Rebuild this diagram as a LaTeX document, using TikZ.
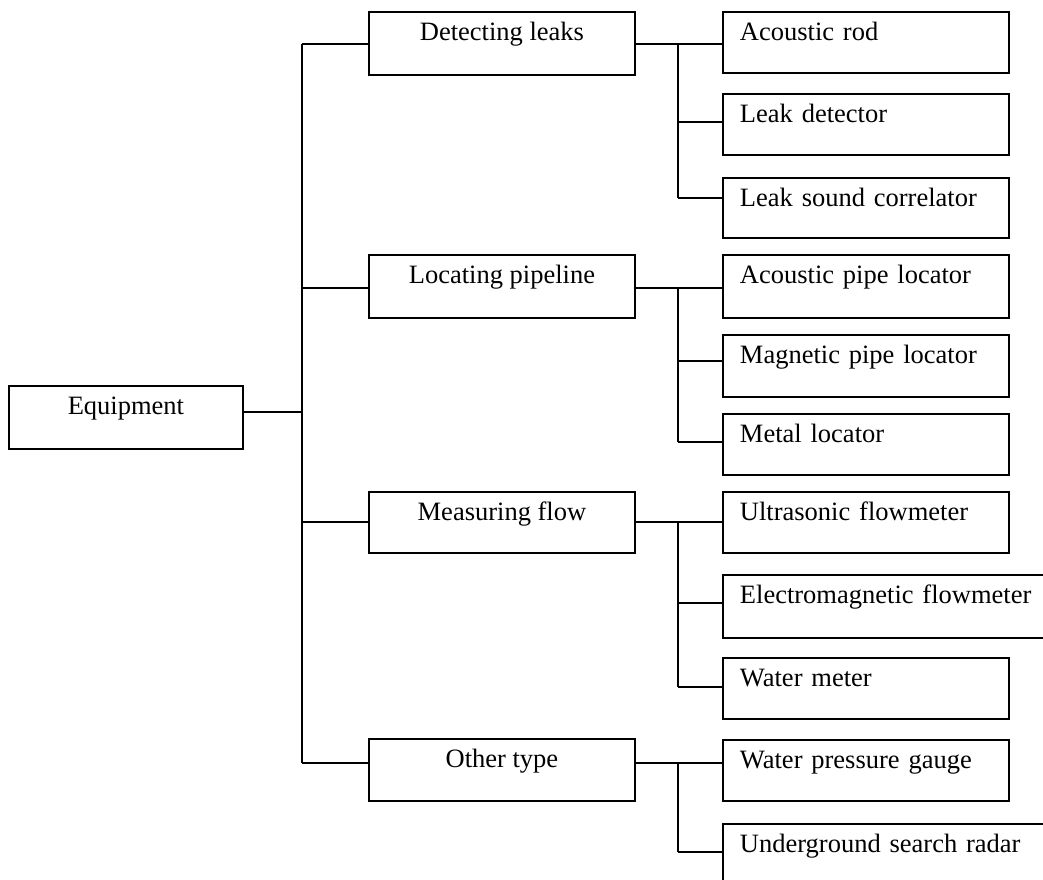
\documentclass[tikz,border=0pt]{standalone}
\usepackage{fontspec}
\setmainfont{Liberation Serif}
\newcommand\boxfont{\fontsize{26.5pt}{30pt}\selectfont}
\begin{document}
\begin{tikzpicture}[x=1pt,y=-1pt,
  line width=1.9pt,
  box/.style={draw, inner sep=0pt, anchor=north west, text height=28.5pt, font=\boxfont},
  cat/.style={box, minimum width=266pt, text depth=#1},
  item/.style={box, inner xsep=17pt, text width=252pt, align=left, text depth=#1},
  wideitem/.style={box, inner xsep=17pt, text width=320pt, align=left, text depth=#1}]
\useasboundingbox (0,0) rectangle (1043,879);
\clip (0,0) rectangle (1043,879);

% root
\node[box, minimum width=234pt, text depth=34.5pt] (eq) at (8,385) {Equipment};

% categories
\node[cat=34.5pt] (dl) at (368,11)  {Detecting leaks};
\node[cat=34.5pt] (lp) at (368,254) {Locating pipeline};
\node[cat=32.5pt] (mf) at (368,491) {Measuring flow};
\node[cat=33.5pt] (ot) at (368,738) {Other type};

% instruments
\node[item=32.5pt] (ar)  at (722,11)  {Acoustic rod};
\node[item=32.5pt] (ld)  at (722,93)  {Leak detector};
\node[item=31.5pt] (lsc) at (722,177) {Leak sound correlator};
\node[item=34.5pt] (apl) at (722,254) {Acoustic pipe locator};
\node[item=33.5pt] (mpl) at (722,334) {Magnetic pipe locator};
\node[item=32.5pt] (ml)  at (722,413) {Metal locator};
\node[item=32.5pt] (uf)  at (722,491) {Ultrasonic flowmeter};
\node[wideitem=34.5pt] (ef) at (722,574) {Electromagnetic flowmeter};
\node[item=32.5pt] (wm)  at (722,657) {Water meter};
\node[item=32.5pt] (wpg) at (722,739) {Water pressure gauge};
\node[wideitem=34.5pt] (usr) at (722,823) {Underground search radar};

% vertical bus lines
\coordinate (trunk) at (302,0);
\coordinate (bus) at (678,0);

% connection ports
\path ([yshift=-27pt]eq.north east) coordinate (Req);
\foreach \n/\o in {dl/33, lp/34, mf/31, ot/25}{
  \path ([yshift=-\o pt]\n.north west) coordinate (L\n)
        ([yshift=-\o pt]\n.north east) coordinate (R\n);
}
\foreach \n/\o in {ar/33, ld/29, lsc/21, apl/34, mpl/27, ml/29, uf/31, ef/29, wm/30, wpg/24, usr/29}{
  \path ([yshift=-\o pt]\n.north west) coordinate (L\n);
}

% root to categories
\draw (Req) -- (Req -| trunk);
\draw (Ldl -| trunk) -- (Lot -| trunk);
\foreach \n in {dl, lp, mf, ot}{
  \draw (L\n -| trunk) -- (L\n);
}

% categories to instruments
\foreach \c/\last in {dl/lsc, lp/ml, mf/wm, ot/usr}{
  \draw (R\c) -- (R\c -| bus) -- (L\last -| bus);
}
\foreach \n in {ar, ld, lsc, apl, mpl, ml, uf, ef, wm, wpg, usr}{
  \draw (L\n -| bus) -- (L\n);
}
\end{tikzpicture}
\end{document}
